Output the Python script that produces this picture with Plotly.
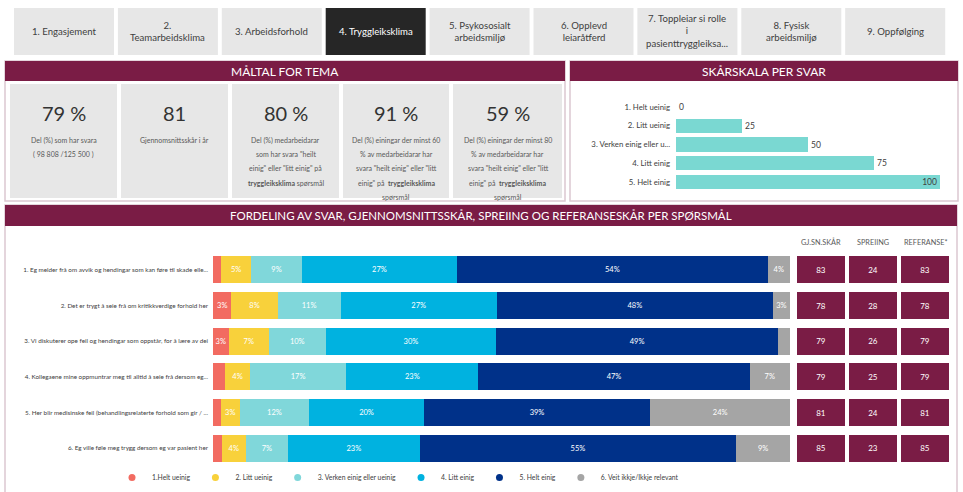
import plotly.graph_objects as go

W, H = 963, 492
FONT = "Lato"
MAROON = "#7A1C45"
BORDER = "#DCC8D1"

# ---------------- data ----------------
tab_labels = ["1. Engasjement", "2.<br>Teamarbeidsklima", "3. Arbeidsforhold", "4. Tryggleiksklima",
              "5. Psykososialt<br>arbeidsmiljø", "6. Opplevd<br>leiaråtferd",
              "7. Toppleiar si rolle<br>i<br>pasienttryggleiksa...", "8. Fysisk<br>arbeidsmiljø", "9. Oppfølging"]
active_tab = 3

kpi_values = ["79 %", "81", "80 %", "91 %", "59 %"]
kpi_texts = [
    ["Del (%) som har svara", "( 98 808 /125 500 )"],
    ["Gjennomsnittsskår i år"],
    ["Del (%) medarbeidarar", "som har svara \"heilt", "einig\" eller \"litt einig\" på",
     "<b>tryggleiksklima</b> spørsmål"],
    ["Del (%) einingar der minst 60", "% av medarbeidarar har", "svara \"heilt einig\" eller \"litt",
     "einig\" på  <b>tryggleiksklima</b>", "spørsmål"],
    ["Del (%) einingar der minst 80", "% av medarbeidarar har", "svara \"heilt einig\" eller \"litt",
     "einig\" på  <b>tryggleiksklima</b>", "spørsmål"],
]

scale_labels = ["1. Helt ueinig", "2. Litt ueinig", "3. Verken einig eller u...", "4. Litt einig", "5. Helt einig"]
scale_values = [0, 25, 50, 75, 100]

questions = [
    "1. Eg melder frå om avvik og hendingar som kan føre til skade elle...",
    "2. Det er trygt å seie frå om kritikkverdige forhold her",
    "3. Vi diskuterer ope feil og hendingar som oppstår, for å lære av dei",
    "4. Kollegaene mine oppmuntrar meg til alltid å seie frå dersom eg...",
    "5. Her blir medisinske feil (behandlingsrelaterte forhold som gir / ...",
    "6. Eg ville føle meg trygg dersom eg var pasient her",
]
answer_names = ["1.Helt ueinig", "2. Litt ueinig", "3. Verken einig eller ueinig",
                "4. Litt einig", "5. Helt einig", "6. Veit ikkje/Ikkje relevant"]
answer_colors = ["#F26B61", "#F8D13B", "#80D7DA", "#00B2E0", "#003189", "#A5A5A5"]
helt_ueinig = [1.4, 3.2, 2.7, 2.1, 1.4, 1.5]
litt_ueinig = [5.2, 8.0, 7.0, 4.3, 3.2, 4.2]
verken = [8.8, 10.9, 9.8, 16.7, 12.1, 7.3]
litt_einig = [26.9, 27.1, 29.6, 22.9, 19.8, 22.8]
helt_einig = [53.8, 47.8, 48.8, 47.0, 39.3, 54.9]
veit_ikkje = [3.9, 3.0, 2.1, 7.0, 24.2, 9.3]
answer_series = [helt_ueinig, litt_ueinig, verken, litt_einig, helt_einig, veit_ikkje]

col_headers = ["GJ.SN.SKÅR", "SPREIING", "REFERANSE*"]
gjsn_skar = [83, 78, 79, 79, 81, 85]
spreiing = [24, 28, 26, 25, 24, 23]
referanse = [83, 78, 79, 79, 81, 85]
score_columns = [gjsn_skar, spreiing, referanse]


# ---------------- helpers ----------------
def X(px):
    return px / W


def Y(py):
    return 1 - py / H


shapes = []
annotations = []


def rect(x0, y0, x1, y1, fill=None, line=None, lw=1):
    shapes.append(dict(type="rect", xref="paper", yref="paper", x0=X(x0), x1=X(x1), y0=Y(y1), y1=Y(y0),
                       fillcolor=fill if fill else "rgba(0,0,0,0)",
                       line=dict(color=line if line else "rgba(0,0,0,0)", width=lw if line else 0),
                       layer="below"))


def text(x, y, s, size, color, xanchor="center", yanchor="middle", family=FONT):
    annotations.append(dict(xref="paper", yref="paper", x=X(x), y=Y(y), text=s, showarrow=False,
                            xanchor=xanchor, yanchor=yanchor, font=dict(size=size, color=color, family=family)))


fig = go.Figure()

# ---------------- tabs ----------------
tab_x0 = 14
tab_step = 103.9
tab_w = 100
for i, lab in enumerate(tab_labels):
    x0 = tab_x0 + i * tab_step
    active = i == active_tab
    rect(x0, 8, x0 + tab_w, 55, fill="#262626" if active else "#E7E7E7")
    text(x0 + tab_w / 2, 31.5, lab, 9.6, "#FFFFFF" if active else "#404040")

# ---------------- panels ----------------
rect(5, 61, 565, 201, line=BORDER, lw=1.5)
rect(5, 61, 565, 81, fill=MAROON)
text(285, 71.5, "MÅLTAL FOR TEMA", 12, "#FFFFFF")

rect(570, 61, 958, 201, line=BORDER, lw=1.5)
rect(570, 61, 958, 81, fill=MAROON)
text(764, 71.5, "SKÅRSKALA PER SVAR", 12, "#FFFFFF")

rect(5, 205, 957, 500, line=BORDER, lw=1.5)
rect(5, 205, 957, 226, fill=MAROON)
text(481, 216, "FORDELING AV SVAR, GJENNOMSNITTSSKÅR, SPREIING OG REFERANSESKÅR PER SPØRSMÅL", 11.5, "#FFFFFF")

# ---------------- KPI boxes ----------------
kpi_x = [(10, 117), (121, 228), (232, 339), (343, 449), (453, 562)]
for (x0, x1), val, lines in zip(kpi_x, kpi_values, kpi_texts):
    rect(x0, 84, x1, 198, fill="#E7E7E7")
    cx = (x0 + x1) / 2
    text(cx, 113, val, 20, "#333333")
    for j, ln in enumerate(lines):
        text(cx, 140 + j * 14.2, ln, 7, "#595959")

# ---------------- score scale chart ----------------
fig.add_trace(go.Bar(
    x=scale_values, y=scale_labels, orientation="h", xaxis="x5", yaxis="y5",
    marker=dict(color="#7AD8D2", line=dict(width=0)), width=0.75,
    text=[str(v) for v in scale_values],
    textposition=["outside"] * (len(scale_values) - 1) + ["inside"],
    insidetextanchor="end", constraintext="none", cliponaxis=False, textangle=0,
    textfont=dict(size=8.5, color="#404040", family=FONT),
    outsidetextfont=dict(size=8.5, color="#404040", family=FONT),
    insidetextfont=dict(size=8.5, color="#404040", family=FONT),
    showlegend=False, hoverinfo="skip",
))

# ---------------- stacked distribution ----------------
for name, color, vals in zip(answer_names, answer_colors, answer_series):
    fig.add_trace(go.Bar(
        x=vals, y=questions, orientation="h", name=name, xaxis="x", yaxis="y",
        marker=dict(color=color, line=dict(width=0)),
        text=[f"{round(v)}%" if round(v) >= 3 else "" for v in vals],
        textposition="inside", insidetextanchor="middle", constraintext="none", textangle=0,
        textfont=dict(size=7.5, color="#FFFFFF", family=FONT),
        showlegend=False, hoverinfo="skip",
    ))
    # legend entry with circular marker
    fig.add_trace(go.Scatter(
        x=[None], y=[None], mode="markers", name=name, xaxis="x", yaxis="y",
        marker=dict(color=color, size=7, symbol="circle"), showlegend=True, hoverinfo="skip",
    ))

# ---------------- score boxes ----------------
for k, vals in enumerate(score_columns):
    fig.add_trace(go.Bar(
        x=[1] * len(vals), y=questions, orientation="h", xaxis=f"x{k + 2}", yaxis="y",
        marker=dict(color=MAROON, line=dict(width=0)),
        text=[str(v) for v in vals], textposition="inside", insidetextanchor="middle",
        constraintext="none", textangle=0, textfont=dict(size=8, color="#FFFFFF", family=FONT),
        showlegend=False, hoverinfo="skip",
    ))

col_centers = [821, 873, 925]
for cx, lab in zip(col_centers, col_headers):
    text(cx, 242, lab, 7.3, "#595959")

hidden = dict(showgrid=False, zeroline=False, showticklabels=False, showline=False, ticks="", fixedrange=True)

fig.update_layout(
    width=W, height=H, margin=dict(l=0, r=0, t=0, b=0),
    paper_bgcolor="#FFFFFF", plot_bgcolor="rgba(0,0,0,0)",
    font=dict(family=FONT, color="#404040"),
    barmode="stack", bargap=0.24,
    xaxis=dict(domain=[X(213), X(790)], range=[0, 100], anchor="y", **hidden),
    yaxis=dict(domain=[Y(466), Y(252)], autorange="reversed", anchor="x", showgrid=False, zeroline=False,
               showline=False, ticks="", ticklabelstandoff=4,
               tickfont=dict(size=6.3, color="#404040", family=FONT), fixedrange=True),
    xaxis2=dict(domain=[X(797), X(845)], range=[0, 1], anchor="y", **hidden),
    xaxis3=dict(domain=[X(849), X(897)], range=[0, 1], anchor="y", **hidden),
    xaxis4=dict(domain=[X(901), X(949)], range=[0, 1], anchor="y", **hidden),
    xaxis5=dict(domain=[X(676), X(940)], range=[0, 100], anchor="y5", **hidden),
    yaxis5=dict(domain=[Y(191.5), Y(97.5)], autorange="reversed", anchor="x5", showgrid=False, zeroline=False,
                showline=False, ticks="", ticklabelstandoff=5,
                tickfont=dict(size=7.8, color="#404040", family=FONT), fixedrange=True),
    legend=dict(orientation="h", x=X(398), y=0, xanchor="center", yanchor="bottom",
                font=dict(size=6.8, color="#404040", family=FONT), itemwidth=30, traceorder="normal",
                bgcolor="rgba(0,0,0,0)", tracegroupgap=0),
    shapes=shapes, annotations=annotations,
)

fig.write_html("out.html", config={"displayModeBar": False},
               post_script="document.body.style.margin='0';")
